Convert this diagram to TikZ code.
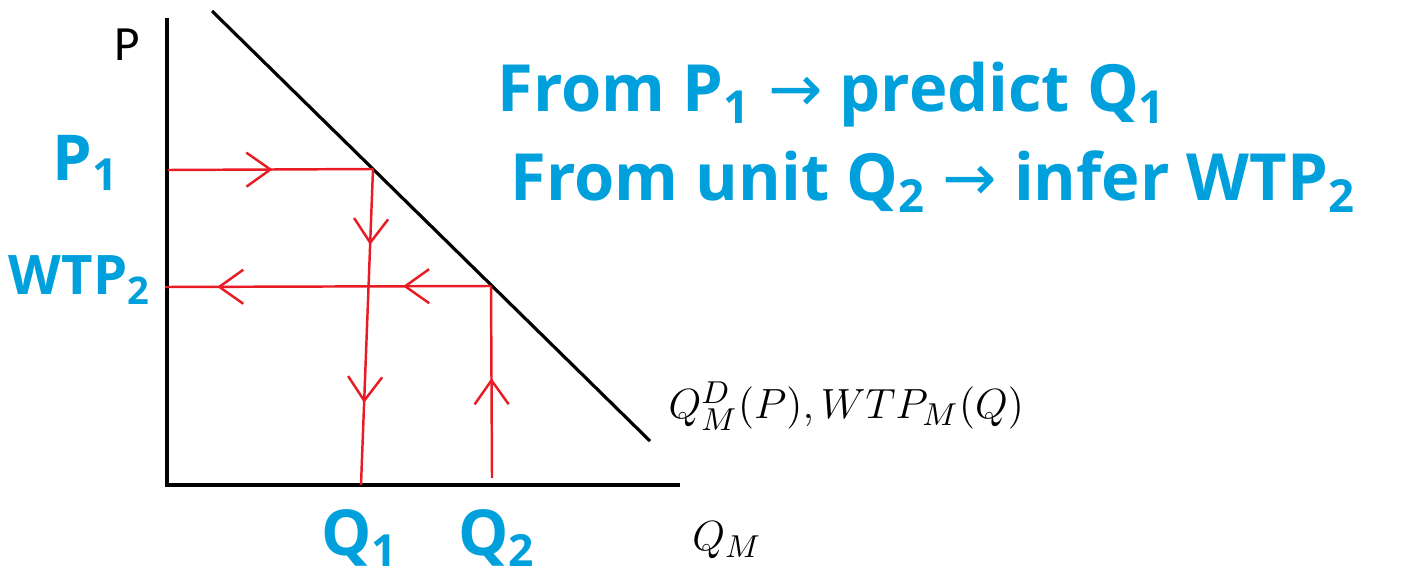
\documentclass[tikz,border=0pt]{standalone}
\usepackage{fontspec}
\usepackage{tikz}
\usetikzlibrary{arrows.meta,decorations.markings}
\newfontfamily\handfont{Open Sans}
\newfontfamily\symfont{DejaVu Sans}
\newfontfamily\labelfont{Carlito}
\definecolor{ink}{RGB}{0,160,220}
\definecolor{pen}{RGB}{232,28,36}

\begin{document}
\begin{tikzpicture}[x=0.01cm, y=-0.01cm,
  axis/.style={line width=0.9pt, black},
  trace/.style={line width=0.7pt, color=pen},
  tip/.style={postaction={decorate, decoration={markings,
              mark=at position #1 with {\arrow{Straight Barb[length=2.4mm,width=3.4mm]}}}}},
  hand/.style={text=ink, font=\handfont\bfseries\fontsize{18}{20}\selectfont, inner sep=0pt},
  note/.style={text=ink, font=\handfont\bfseries\fontsize{18.5}{20}\selectfont,
               inner sep=0pt, anchor=west},
  eq/.style={font=\fontsize{12.5}{15}\selectfont, inner sep=0pt}
]
\useasboundingbox (0,0) rectangle (1410,579);

% ── Axes and demand curve ─────────────
\coordinate (ptop) at (167,18);
\coordinate (o)    at (167,485);
\coordinate (qend) at (680,485);
\coordinate (dtop) at (212,11);
\coordinate (dend) at (650,441);
\draw[axis] (ptop) -- (o) -- (qend);
\draw[axis] (dtop) -- (dend);

% ── Points used by the traces ─────────
\coordinate (p1)  at (168,170);
\coordinate (d1)  at (373,169);
\coordinate (q1)  at (361,485);
\coordinate (d2)  at (491,286);
\coordinate (w2)  at (165,287);
\coordinate (q2)  at (492,478);

% ── Red traces ────────────────────────
\draw[trace, tip=0.51] (p1) -- (d1);
\draw[trace, tip=0.24, tip=0.74] (d1) -- (q1);
\draw[trace, tip=0.52] (q2) -- (d2);
\draw[trace, tip=0.27, tip=0.84] (d2) -- (w2);

% ── Axis labels ───────────────────────
\node[font=\labelfont\fontsize{14}{16}\selectfont, inner sep=0pt] (plab) at (127,45) {P};
\node[eq] (qmlab) at (727,540) {$Q_M$};
\node[eq, anchor=west] (curve) at (668,406) {$Q^D_M(P), WTP_M(Q)$};

\node[hand] (p1lab)  at (86,163)  {P\textsubscript{1}};
\node[hand, font=\handfont\bfseries\fontsize{15.5}{18}\selectfont]
  (wtplab) at (80,280) {WTP\textsubscript{2}};
\node[hand] (q1lab)  at (360,538) {Q\textsubscript{1}};
\node[hand] (q2lab)  at (497,538) {Q\textsubscript{2}};

% ── Notes ─────────────────────────────
\node[note] (note1) at (497,95)
  {From P\textsubscript{1} {\symfont\mdseries→} predict Q\textsubscript{1}};
\node[note] (note2) at (510,182)
  {From unit Q\textsubscript{2} {\symfont\mdseries→} infer WTP\textsubscript{2}};

\end{tikzpicture}
\end{document}
